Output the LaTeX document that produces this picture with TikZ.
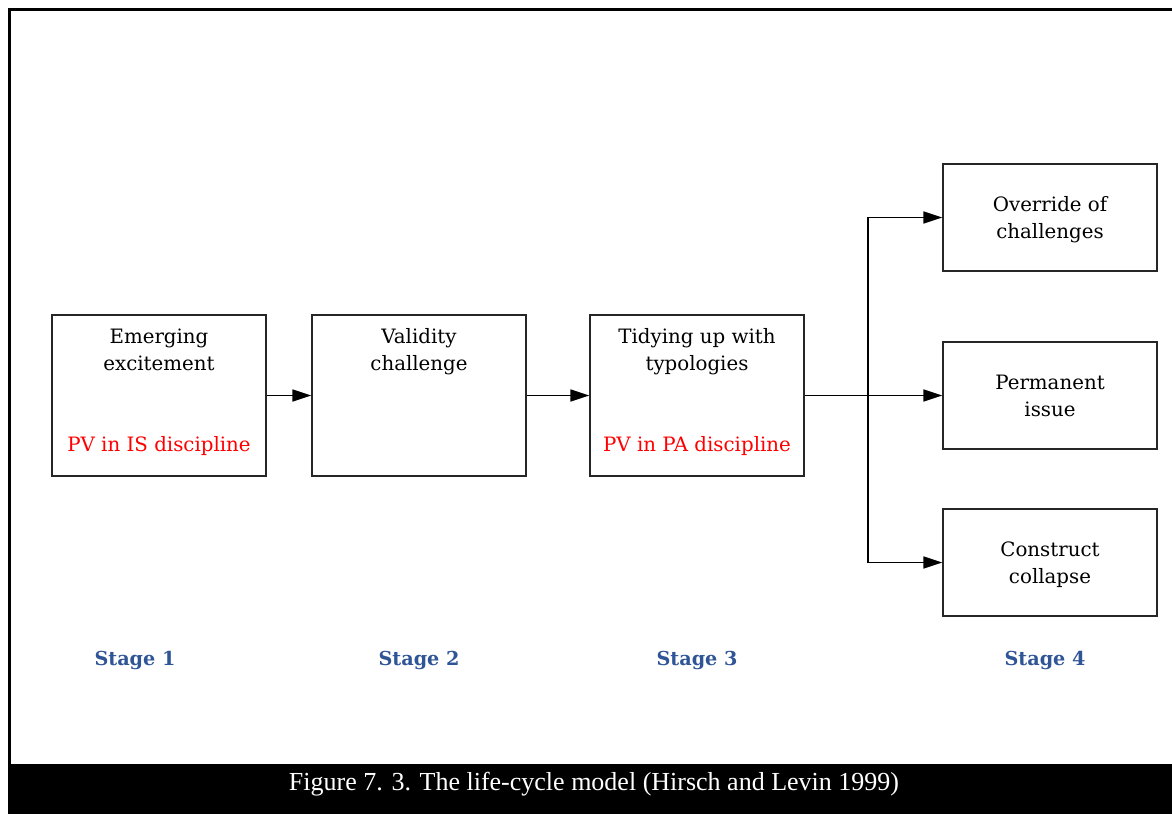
\documentclass[tikz,border=0pt]{standalone}
\usepackage{fontspec}
\usetikzlibrary{arrows.meta,calc}
\newfontfamily\boxfont{DejaVu Serif}
\newfontfamily\capfont{Liberation Serif}
\definecolor{stageblue}{RGB}{47,85,151}
\begin{document}
\begin{tikzpicture}[x=1pt,y=-1pt,
  stagebox/.style={draw=black!85,line width=1.3pt,minimum width=214pt,inner sep=0pt},
  tallbox/.style={stagebox,minimum height=161pt},
  shortbox/.style={stagebox,minimum height=107pt},
  boxtext/.style={font=\boxfont\fontsize{19.8}{27}\selectfont,align=center,inner sep=0pt,anchor=base},
  redtext/.style={boxtext,text=red},
  stagelabel/.style={font=\boxfont\bfseries\fontsize{19.2}{22}\selectfont,text=stageblue,inner sep=0pt,anchor=base},
  flow/.style={line width=1.6pt,-{Triangle[length=19pt,width=12pt]}}]
  \useasboundingbox (0,0) rectangle (1172,814);
  % outer frame and caption bar
  \draw[line width=3pt] (9,814) -- (9,9) -- (1172,9);
  \fill[black] (8,764) rectangle (1172,814);
  \node[font=\capfont\fontsize{26}{30}\selectfont,text=white,inner sep=0pt] (cap) at (594,784)
    {Figure 7. 3. The life-cycle model (Hirsch and Levin 1999)};

  % stage boxes
  \node[tallbox] (b1) at (159,395.5) {};
  \node[tallbox] (b2) at (419,395.5) {};
  \node[tallbox] (b3) at (697,395.5) {};
  \node[shortbox] (b4a) at (1050,217.5) {};
  \node[shortbox] (b4b) at (1050,395.5) {};
  \node[shortbox] (b4c) at (1050,562.5) {};

  % box texts
  \node[boxtext] (t1a) at (159,343) {Emerging};
  \node[boxtext] (t1b) at (159,370) {excitement};
  \node[redtext] (r1) at (159,451) {PV in IS discipline};
  \node[boxtext] (t2a) at (419,343) {Validity};
  \node[boxtext] (t2b) at (419,370) {challenge};
  \node[boxtext] (t3a) at (697,343) {Tidying up with};
  \node[boxtext] (t3b) at (697,370) {typologies};
  \node[redtext] (r3) at (697,451) {PV in PA discipline};
  \node[boxtext] (t4a1) at (1050,211) {Override of};
  \node[boxtext] (t4a2) at (1050,238) {challenges};
  \node[boxtext] (t4b1) at (1050,389) {Permanent};
  \node[boxtext] (t4b2) at (1050,416) {issue};
  \node[boxtext] (t4c1) at (1050,556) {Construct};
  \node[boxtext] (t4c2) at (1050,583) {collapse};

  % stage labels
  \node[stagelabel] (s1) at (135,665) {Stage 1};
  \node[stagelabel] (s2) at (419,665) {Stage 2};
  \node[stagelabel] (s3) at (697,665) {Stage 3};
  \node[stagelabel] (s4) at (1045,665) {Stage 4};

  % connectors
  \coordinate (split) at (868,395.5);
  \draw[flow] (b1.east) -- (b2.west);
  \draw[flow] (b2.east) -- (b3.west);
  \draw[flow] (b3.east) -- (b4b.west);
  \draw[flow] (split) |- (b4a.west);
  \draw[flow] (split) |- (b4c.west);
\end{tikzpicture}
\end{document}
